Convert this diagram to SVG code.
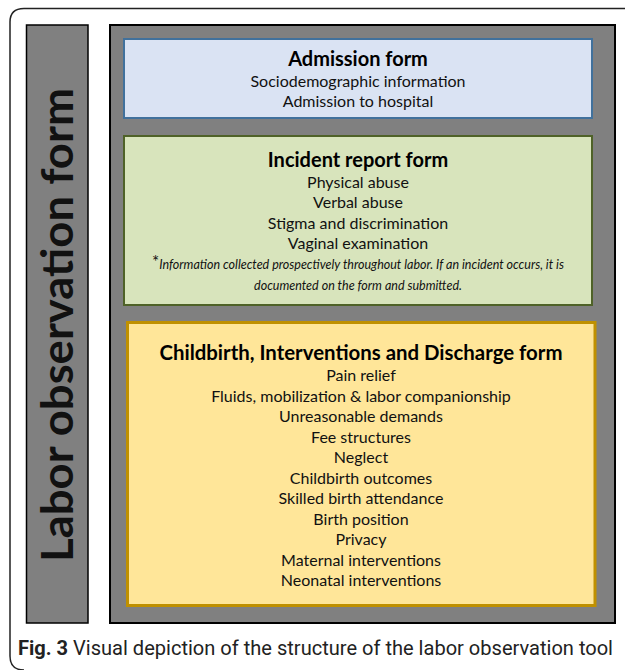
<svg xmlns="http://www.w3.org/2000/svg" width="625" height="670" viewBox="0 0 625 670">
<style>
.t{font-family:Lato,"Noto Sans","Liberation Sans",sans-serif;text-anchor:middle;fill:#111}
.h{font-weight:bold;font-size:20px;fill:#000}
.i{font-size:16px}
.n{font-size:12.5px;font-style:italic}
.cap{font-family:Roboto,"Liberation Sans",sans-serif;font-size:20px;fill:#222}
</style>
<rect width="625" height="670" fill="#fff"/>
<path d="M625 8.5H24Q10 8.5 10 22V656Q10 670 24 670" fill="none" stroke="#222" stroke-width="1.5"/>
<g id="labor-observation-form">
<rect x="26.5" y="25" width="61.5" height="598" fill="#808080" stroke="#000" stroke-width="1.5"/>
<text class="t" transform="translate(73 325) rotate(-90)" style="font-weight:bold;font-size:44px" textLength="474" lengthAdjust="spacingAndGlyphs" fill="#000">Labor observation form</text>
</g>
<g id="container">
<rect x="110" y="25" width="505" height="598" fill="#808080" stroke="#000" stroke-width="2"/>
</g>
<g id="admission-form">
<rect x="124" y="39" width="468" height="79" fill="#dae3f3" stroke="#41719c" stroke-width="2"/>
<text class="t h" x="358" y="66">Admission form</text>
<text class="t i" x="358" y="87">Sociodemographic information</text>
<text class="t i" x="358" y="107">Admission to hospital</text>
</g>
<g id="incident-report-form">
<rect x="124" y="136" width="468" height="169" fill="#d8e4bc" stroke="#4f6228" stroke-width="2"/>
<text class="t h" x="358" y="167">Incident report form</text>
<text class="t i" x="358" y="188">Physical abuse</text>
<text class="t i" x="358" y="208">Verbal abuse</text>
<text class="t i" x="358" y="229">Stigma and discrimination</text>
<text class="t i" x="358" y="249">Vaginal examination</text>
<text class="t n" x="358" y="269"><tspan style="font-size:17px;font-style:normal" dy="-1">*</tspan><tspan dy="1">Information collected prospectively throughout labor. If an incident occurs, it is</tspan></text>
<text class="t n" x="358" y="290">documented on the form and submitted.</text>
</g>
<g id="childbirth-form">
<rect x="127.5" y="322.5" width="467.5" height="283" fill="#ffe699" stroke="#bf9000" stroke-width="3"/>
<text class="t h" x="361" y="360" style="font-size:20.4px">Childbirth, Interventions and Discharge form</text>
<text class="t i" x="361" y="381">Pain relief</text>
<text class="t i" x="361" y="402">Fluids, mobilization &amp; labor companionship</text>
<text class="t i" x="361" y="422">Unreasonable demands</text>
<text class="t i" x="361" y="443">Fee structures</text>
<text class="t i" x="361" y="463">Neglect</text>
<text class="t i" x="361" y="484">Childbirth outcomes</text>
<text class="t i" x="361" y="504">Skilled birth attendance</text>
<text class="t i" x="361" y="525">Birth position</text>
<text class="t i" x="361" y="545">Privacy</text>
<text class="t i" x="361" y="566">Maternal interventions</text>
<text class="t i" x="361" y="586">Neonatal interventions</text>
</g>
<g id="connectors"></g>
<text class="cap" x="18" y="655" textLength="595" lengthAdjust="spacingAndGlyphs"><tspan font-weight="bold">Fig. 3</tspan> Visual depiction of the structure of the labor observation tool</text>
</svg>
